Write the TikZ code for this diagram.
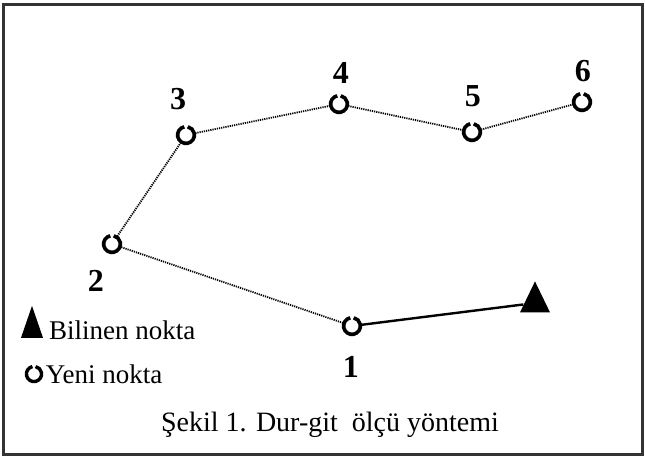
\documentclass[tikz,border=0pt]{standalone}
\usepackage{fontspec}
\setmainfont{Liberation Serif}
\usetikzlibrary{positioning,shapes.geometric}

\begin{document}
\begin{tikzpicture}[
  x=0.5pt, y=-0.5pt,
  nokta/.style={circle, minimum size=9pt, inner sep=0pt},
  bilinen/.style={isosceles triangle, isosceles triangle stretches, shape border rotate=90,
    fill=black, inner sep=0pt},
  sayi/.style={font=\fontsize{16}{16}\selectfont\bfseries, inner sep=0pt},
  yazi/.style={font=\fontsize{13.5}{14}\selectfont, inner sep=0pt, anchor=west},
  yol/.style={line width=0.9pt, dash pattern=on 0.6pt off 0.5pt},
  olcu/.style={line width=1.2pt}
]
  \useasboundingbox (0,0) rectangle (645,456);
  \draw[line width=1.5pt, black!80] (3,4) rectangle (643,454);

  % yeni noktalar
  \node[nokta] (n1) at (352,326) {};
  \node[nokta] (n2) at (112,244) {};
  \node[nokta] (n3) at (186,135) {};
  \node[nokta] (n4) at (339,104) {};
  \node[nokta] (n5) at (472,132) {};
  \node[nokta] (n6) at (582,102) {};
  % bilinen nokta
  \node[bilinen, minimum width=15pt, minimum height=15.5pt] (b) at (535,303) {};

  \node[sayi] (s1) at (351,367) {1};
  \node[sayi] (s2) at (96,281) {2};
  \node[sayi] (s3) at (178,99) {3};
  \node[sayi] (s4) at (341,73) {4};
  \node[sayi] (s5) at (473,96) {5};
  \node[sayi] (s6) at (583,71) {6};

  \draw[olcu] (n1) -- (b);
  \foreach \a/\b in {n1/n2, n2/n3, n3/n4, n4/n5, n5/n6}
    \draw[yol] (\a) -- (\b);
  \foreach \n in {n1,n2,n3,n4,n5,n6}
    \draw[line width=1.8pt] ([shift={(102:4.2pt)}]\n.center) arc[start angle=102, end angle=438, radius=4.2pt];

  % lejant
  \node[bilinen, minimum width=11pt, minimum height=16pt] (lb) at (32,330) {};
  \node[yazi, right=4pt of lb] (tb) {Bilinen nokta};
  \node[nokta] (ly) at (34,374) {};
  \draw[line width=1.7pt] ([shift={(102:3.8pt)}]ly.center) arc[start angle=102, end angle=438, radius=3.8pt];
  \node[yazi, right=1pt of ly] (ty) {Yeni nokta};

  \node[font=\fontsize{14}{16}\selectfont] (cap) at (330,425) {Şekil 1. Dur-git\ \ ölçü yöntemi};
\end{tikzpicture}
\end{document}
